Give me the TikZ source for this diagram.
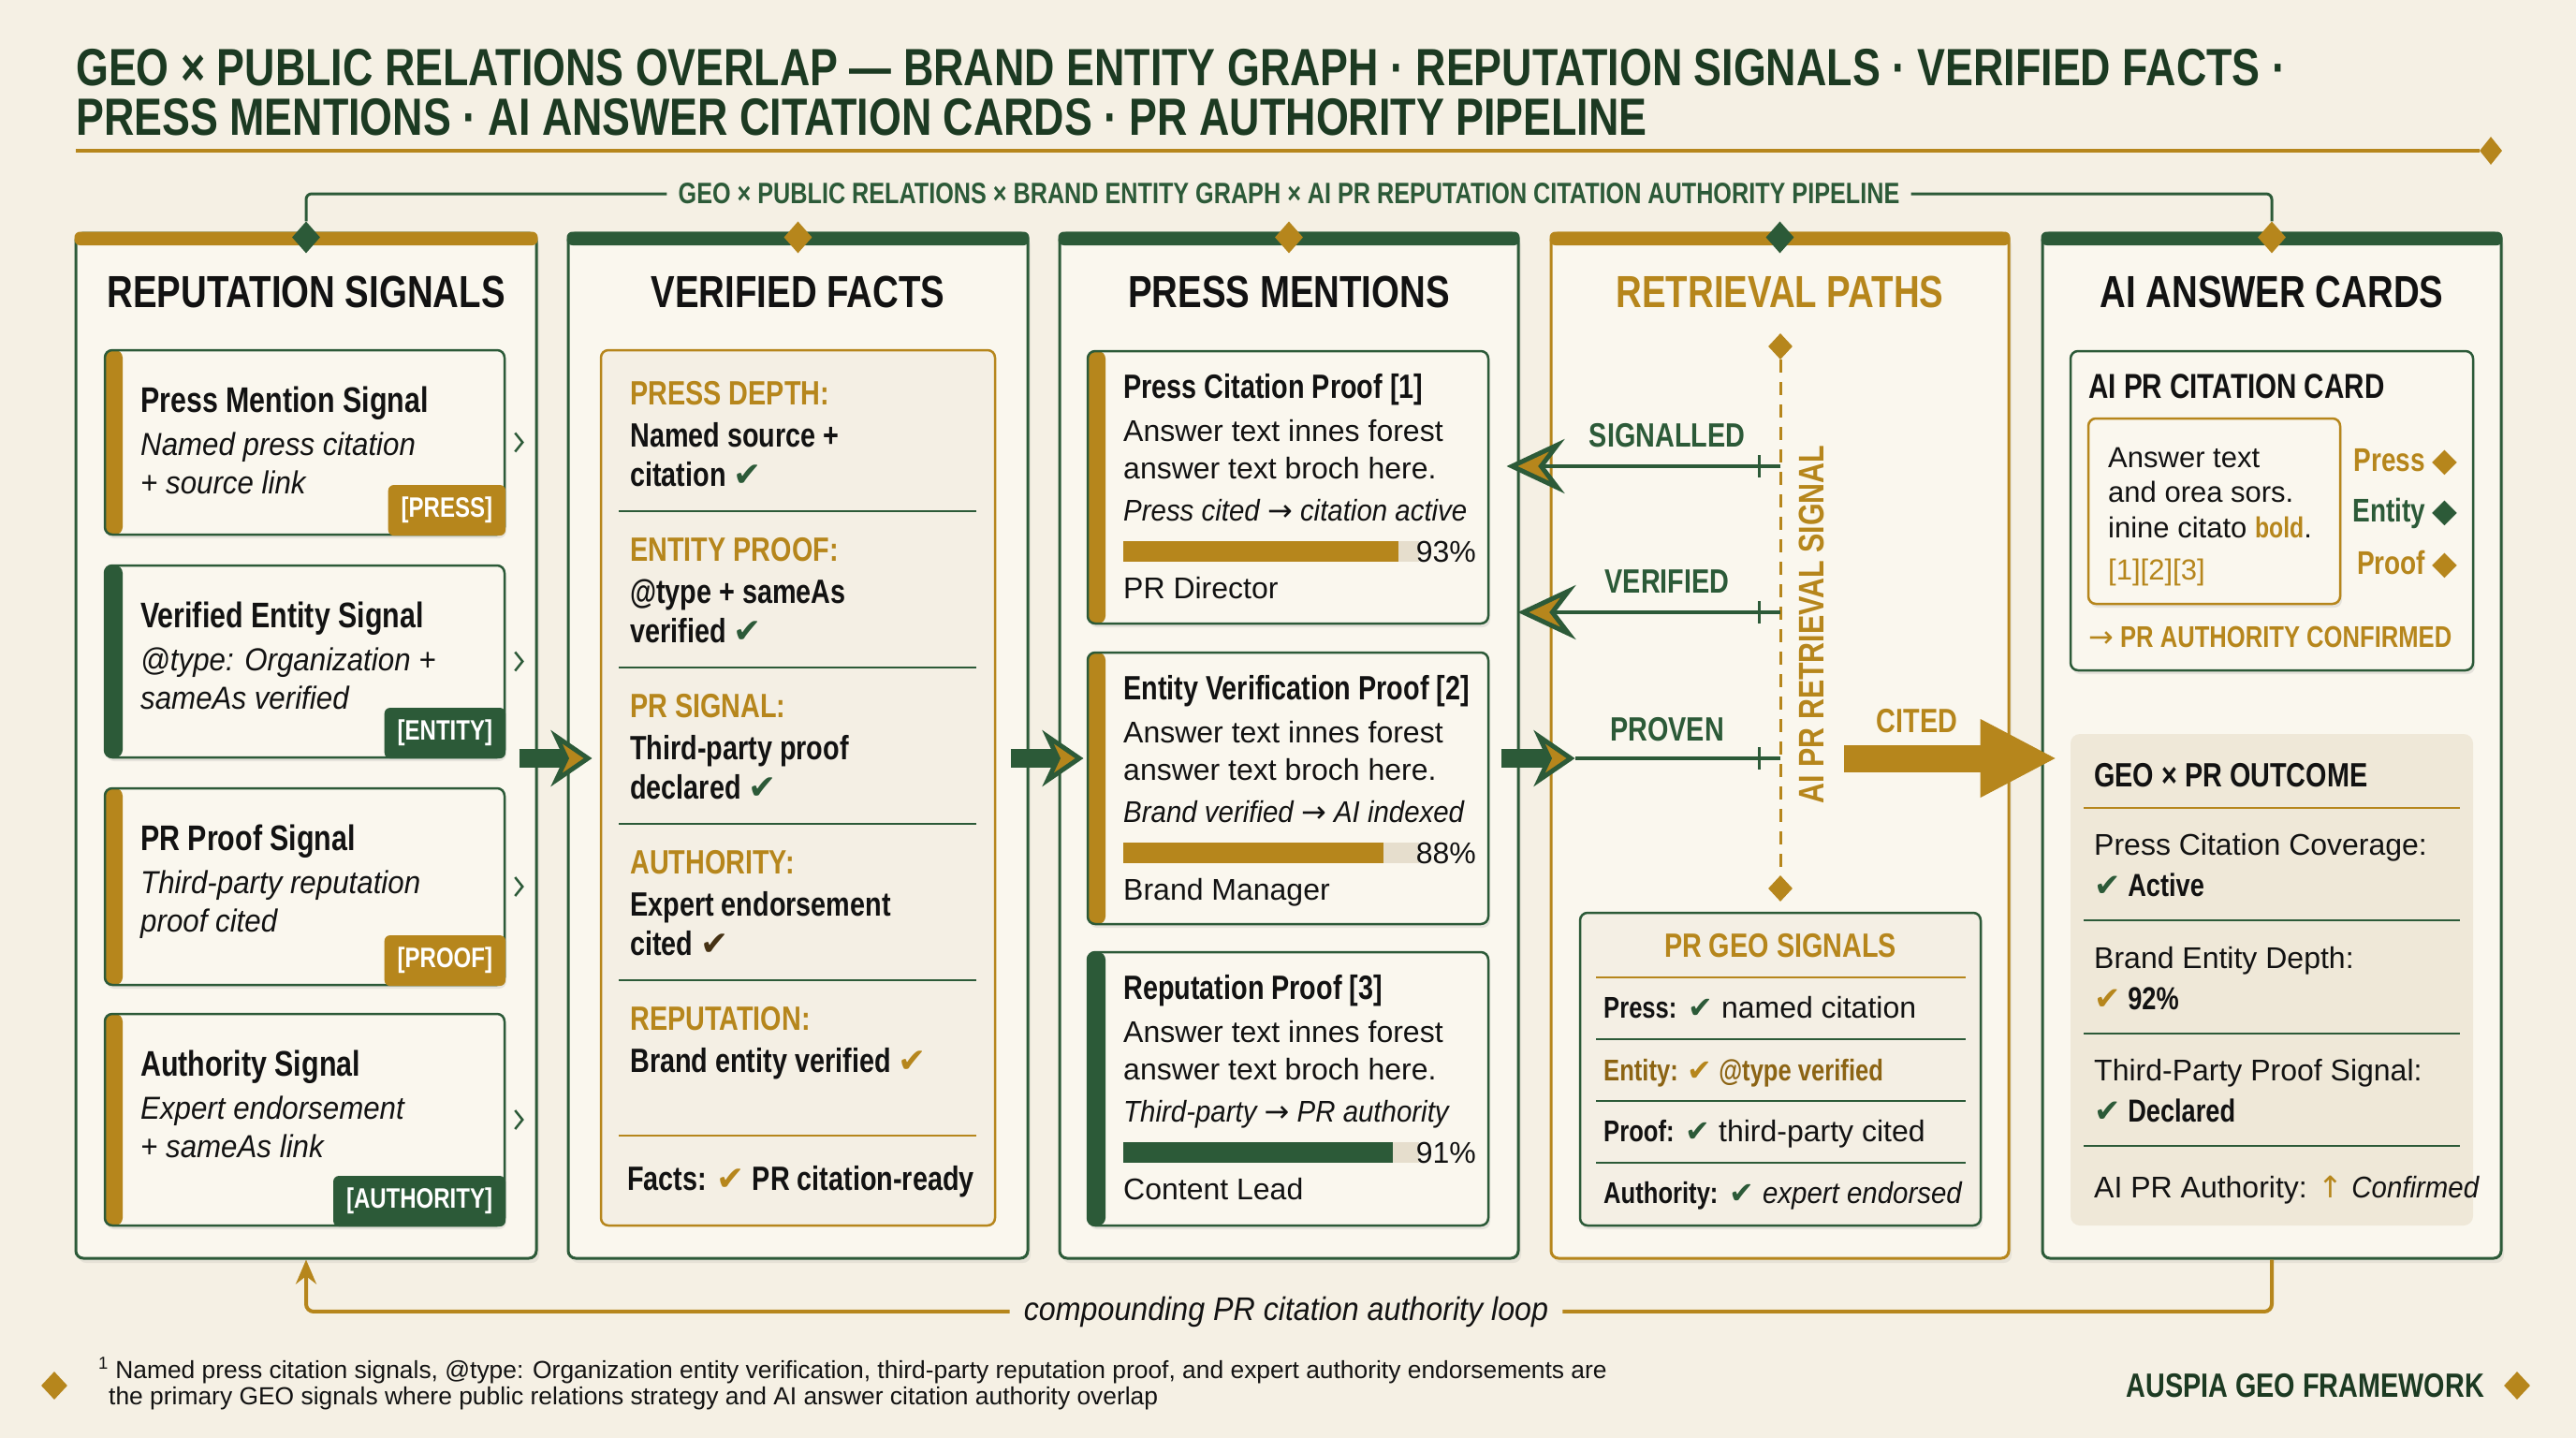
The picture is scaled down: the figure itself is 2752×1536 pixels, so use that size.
\documentclass[tikz,border=0pt]{standalone}
\usepackage{fontspec}
\setmainfont{Liberation Sans}[BoldFeatures={FakeStretch=0.8},ItalicFeatures={FakeStretch=0.92}]
\newfontfamily\symf{DejaVu Sans}
\usetikzlibrary{arrows.meta,positioning,calc,shapes.geometric,fit,shadows}
\definecolor{geoGreen}{RGB}{44,90,56}
\definecolor{geoDeep}{RGB}{28,58,34}
\definecolor{geoGold}{RGB}{182,134,28}
\definecolor{geoBrown}{RGB}{140,100,20}
\definecolor{geoDark}{RGB}{70,50,20}
\definecolor{geoBg}{RGB}{245,240,228}
\definecolor{geoPaper}{RGB}{250,247,238}
\definecolor{geoBeige}{RGB}{239,232,216}
\definecolor{geoTrack}{RGB}{230,222,205}
\definecolor{geoInk}{RGB}{18,18,18}
\newcommand{\ck}[1]{{\symf\mdseries\color{#1}✔}}
\newcommand{\rarr}{{\symf\mdseries →}}
\newcommand{\dmd}{{\symf\mdseries ◆}}

\begin{document}
\begin{tikzpicture}[x=1pt, y=-1pt,
    hdtxt/.style={font=\fontsize{#1}{#1}\selectfont\bfseries, text=geoInk, inner sep=0pt},
    rgtxt/.style={font=\fontsize{#1}{#1}\selectfont, text=geoInk, inner sep=0pt},
    ittxt/.style={font=\fontsize{#1}{#1}\selectfont\itshape, text=geoInk, inner sep=0pt},
    panel/.style={fill=geoPaper, line width=3pt, rounded corners=8pt, inner sep=0pt,
                  drop shadow={shadow xshift=3pt, shadow yshift=-5pt, opacity=0.12}},
    card/.style={fill=geoPaper, draw=geoGreen, line width=2.5pt, rounded corners=8pt, inner sep=0pt,
                 drop shadow={shadow xshift=2pt, shadow yshift=-4pt, opacity=0.16}},
    tagbox/.style={text=white, font=\fontsize{30}{30}\selectfont\bfseries, inner xsep=14pt,
                   inner ysep=0pt, minimum height=54pt, rounded corners=6pt},
    factbox/.style={fill=geoBeige!70, draw=geoGold, line width=2.5pt, rounded corners=8pt, inner sep=0pt},
    gem/.style={diamond, fill=#1, inner sep=0pt, minimum width=30pt, minimum height=34pt},
    flow/.style={draw=geoGreen, line width=20pt,
                 -{Stealth[length=44pt, width=60pt, inset=14pt, fill=geoGold, line width=5pt]}},
    backflow/.style={draw=geoGreen, line width=4pt,
                 -{Stealth[length=62pt, width=58pt, inset=22pt, fill=geoGold, line width=5pt]}},
    citedarrow/.style={draw=geoGold, line width=29pt, -{Triangle[length=80pt, width=84pt, line width=1pt]}},
    loopline/.style={draw=geoGold, line width=4pt, rounded corners=8pt}]

  \useasboundingbox (0,0) rectangle (2752,1536);
  \fill[geoBg] (0,0) rectangle (2752,1536);

  % Header
  \node[font=\fontsize{56}{53}\selectfont\bfseries, text=geoDeep, inner sep=0pt,
        anchor=base west, align=left] (title) at (81,145)
    {GEO × PUBLIC RELATIONS OVERLAP — BRAND ENTITY GRAPH · REPUTATION SIGNALS · VERIFIED FACTS ·\\
     PRESS MENTIONS · AI ANSWER CITATION CARDS · PR AUTHORITY PIPELINE};
  \coordinate (rule) at (81,161);
  \node[gem=geoGold, minimum width=24pt, minimum height=30pt] (ruled) at (2661,161) {};
  \draw[geoGold, line width=4pt] (rule) -- (ruled.west);

  % Panels
  \foreach \i/\xl/\xr/\bc/\tc/\dc/\ttl/\ttc in {
      1/81/573/geoGreen/geoGold/geoGreen/REPUTATION SIGNALS/geoInk,
      2/607/1098/geoGreen/geoGreen/geoGold/VERIFIED FACTS/geoInk,
      3/1132/1622/geoGreen/geoGreen/geoGold/PRESS MENTIONS/geoInk,
      4/1657/2146/geoGold/geoGold/geoGreen/RETRIEVAL PATHS/geoGold,
      5/2182/2672/geoGreen/geoGreen/geoGold/AI ANSWER CARDS/geoInk} {
    \node[panel, draw=\bc, fit={(\xl,249) (\xr,1344)}] (p\i) {};
    \fill[\tc, rounded corners=6pt] (\xl-1.5,247.5) rectangle (\xr+1.5,262);
    \node[gem=\dc] (d\i) at ([yshift=-6pt]p\i.north) {};
    \node[hdtxt=48, text=\ttc, anchor=base] (t\i) at ([yshift=-81pt]p\i.north) {\ttl};
  }

  % Pipeline bracket
  \node[hdtxt=31.5, text=geoGreen, inner xsep=12pt] (sub) at (1377,207)
    {GEO × PUBLIC RELATIONS × BRAND ENTITY GRAPH × AI PR REPUTATION CITATION AUTHORITY PIPELINE};
  \draw[geoGreen, line width=3pt, rounded corners=6pt] (d1.north) |- (sub.west);
  \draw[geoGreen, line width=3pt, rounded corners=6pt] (sub.east) -| (d5.north);

  % Reputation signal cards
  \foreach \n/\yt/\yb/\stc/\ttl/\la/\lb/\tg/\tgc in {
      1/374/571/geoGold/Press Mention Signal/Named press citation/+ source link/PRESS/geoGold,
      2/604/809/geoGreen/Verified Entity Signal/@type: Organization +/sameAs verified/ENTITY/geoGreen,
      3/842/1052/geoGold/PR Proof Signal/Third-party reputation/proof cited/PROOF/geoGold,
      4/1083/1309/geoGold/Authority Signal/Expert endorsement/+ sameAs link/AUTHORITY/geoGreen} {
    \node[card, fit={(112,\yt) (539,\yb)},
          path picture={\fill[\stc] (path picture bounding box.north west)
                        rectangle ([xshift=19pt]path picture bounding box.south west);}] (s\n) {};
    \node[hdtxt=38, anchor=base west] (s\n t) at (150,{\yt+66}) {\ttl};
    \node[ittxt=34, anchor=base west] (s\n a) at (150,{\yt+112}) {\la};
    \node[ittxt=34, anchor=base west] (s\n b) at (150,{\yt+153}) {\lb};
    \node[tagbox, fill=\tgc, anchor=south east] (s\n g) at (s\n.south east) {[\tg]};
    \draw[geoGreen, line width=2.5pt] ([xshift=10pt,yshift=10pt]s\n.east) -- ++(8,10) -- ++(-8,10);
  }

  % Verified facts
  \node[factbox, fit={(642,374) (1063,1309)}] (vf) {};
  \foreach \k/\hd/\la/\lb/\kc in {
      0/PRESS DEPTH:/Named source +/citation/geoGreen,
      1/ENTITY PROOF:/@type + sameAs/verified/geoGreen,
      2/PR SIGNAL:/Third-party proof/declared/geoGreen,
      3/AUTHORITY:/Expert endorsement/cited/geoDark} {
    \node[hdtxt=36, text=geoGold, anchor=base west] (vh\k) at (673,{432+167*\k}) {\hd};
    \node[hdtxt=36, anchor=base west] (va\k) at (673,{477+167*\k}) {\la};
    \node[hdtxt=36, anchor=base west] (vb\k) at (673,{519+167*\k}) {\lb\ \ck{\kc}};
    \draw[geoGreen, line width=2.5pt] (661,{546+167*\k}) -- (1043,{546+167*\k});
  }
  \node[hdtxt=36, text=geoGold, anchor=base west] (vh4) at (673,1100) {REPUTATION:};
  \node[hdtxt=36, anchor=base west] (va4) at (673,1145) {Brand entity verified \ck{geoGold}};
  \draw[geoGold, line width=2.5pt] (661,1213) -- (1043,1213);
  \node[hdtxt=36, anchor=base west] (vfacts) at (670,1271) {Facts: \ck{geoGold} PR citation-ready};

  % Press mention cards
  \foreach \n/\yt/\yb/\stc/\ttl/\nt/\pc/\who in {
      1/375/666/geoGold/Press Citation Proof [1]/Press cited \rarr{} citation active/93/PR Director,
      2/697/987/geoGold/Entity Verification Proof [2]/Brand verified \rarr{} AI indexed/88/Brand Manager,
      3/1017/1309/geoGreen/Reputation Proof [3]/Third-party \rarr{} PR authority/91/Content Lead} {
    \node[card, fit={(1162,\yt) (1590,\yb)},
          path picture={\fill[\stc] (path picture bounding box.north west)
                        rectangle ([xshift=19pt]path picture bounding box.south west);}] (m\n) {};
    \node[hdtxt=36, anchor=base west] (m\n t) at (1200,{\yt+50}) {\ttl};
    \node[rgtxt=32, anchor=base west] (m\n a) at (1200,{\yt+96}) {Answer text innes forest};
    \node[rgtxt=32, anchor=base west] (m\n b) at (1200,{\yt+136}) {answer text broch here.};
    \node[ittxt=32, anchor=base west] (m\n n) at (1200,{\yt+181}) {\nt};
    \fill[geoTrack] (1200,{\yt+203}) rectangle (1516,{\yt+225});
    \fill[\stc] (1200,{\yt+203}) rectangle ({1200+3.16*\pc},{\yt+225});
    \node[rgtxt=32, anchor=base east] (m\n p) at (1577,{\yt+225}) {\pc\%};
    \node[rgtxt=32, anchor=base west] (m\n w) at (1200,{\yt+264}) {\who};
  }

  % Retrieval axis
  \node[gem=geoGold, minimum width=26pt, minimum height=28pt] (ax1) at (1902,370) {};
  \node[gem=geoGold, minimum width=26pt, minimum height=28pt] (ax2) at (1902,949) {};
  \draw[geoGold, line width=3pt, dash pattern=on 14pt off 10pt] (ax1) -- (ax2);
  \node[hdtxt=38, text=geoGold, rotate=90] (vsig) at (1935,667) {AI PR RETRIEVAL SIGNAL};

  % Retrieval paths
  \coordinate (r3) at (1902,810);
  \draw[geoGreen, line width=4pt] (r3) -- ([xshift=27pt,yshift=-13.5pt]p4.west);
  \draw[geoGreen, line width=3pt] ([xshift=-23pt,yshift=12pt]r3) -- ([xshift=-23pt,yshift=-12pt]r3);
  \node[hdtxt=36, text=geoGreen, anchor=base] (rl3) at (1781,791) {PROVEN};
  \foreach \n/\y/\lab/\dx in {1/498/SIGNALLED/-14pt, 2/654/VERIFIED/-2pt} {
    \coordinate (r\n) at (1902,\y);
    \draw[backflow] (r\n) -- ([xshift=\dx]r\n -| p3.east);
    \draw[geoGreen, line width=3pt] ([xshift=-23pt,yshift=12pt]r\n) -- ([xshift=-23pt,yshift=-12pt]r\n);
    \node[hdtxt=36, text=geoGreen, anchor=base] (rl\n) at (1781,{\y-21}) {\lab};
  }

  % Panel to panel flow
  \foreach \a/\b in {1/2,2/3,3/4}
    \draw[flow] ([xshift=-20pt,yshift=-13.5pt]p\a.east) -- ([xshift=27pt,yshift=-13.5pt]p\b.west);

  % Cited
  \coordinate (c0) at (1970,810);
  \draw[citedarrow] (c0) -- ([xshift=15pt]c0 -| p5.west);
  \node[hdtxt=36, text=geoGold, anchor=base] (cl) at (2048,782) {CITED};

  % PR GEO signals
  \node[factbox, draw=geoGreen, drop shadow={shadow xshift=2pt, shadow yshift=-4pt, opacity=0.16},
        fit={(1688,975) (2116,1309)}] (gs) {};
  \node[hdtxt=36, text=geoGold, anchor=base] (gst) at (1902,1022) {PR GEO SIGNALS};
  \draw[geoGold, line width=2.5pt] (1705,1044) -- (2100,1044);
  \foreach \y in {1110,1176,1242}
    \draw[geoGreen, line width=2.5pt] (1705,\y) -- (2100,\y);
  \node[rgtxt=32, anchor=base west] (gs1) at (1713,1087) {\textbf{Press:} \ck{geoGreen} named citation};
  \node[hdtxt=32, text=geoBrown, anchor=base west] (gs2) at (1713,1154) {Entity: \ck{geoGold} @type verified};
  \node[rgtxt=32, anchor=base west] (gs3) at (1713,1219) {\textbf{Proof:} \ck{geoGreen} third-party cited};
  \node[rgtxt=32, anchor=base west] (gs4) at (1713,1285) {\textbf{Authority:} \ck{geoGreen} \textit{expert endorsed}};

  % AI citation card
  \node[card, fit={(2212,375) (2642,716)}] (cc) {};
  \node[hdtxt=37, anchor=base west] (cct) at (2231,425) {AI PR CITATION CARD};
  \node[card, draw=geoGold, fit={(2231,447) (2500,645)}] (ab) {};
  \node[rgtxt=31, anchor=base west] (ab1) at (2252,499) {Answer text};
  \node[rgtxt=31, anchor=base west] (ab2) at (2252,536) {and orea sors.};
  \node[rgtxt=31, anchor=base west] (ab3) at (2252,574) {inine citato \textbf{\color{geoGold}bold}.};
  \node[rgtxt=31, text=geoGold, anchor=base west] (ab4) at (2252,619) {[1][2][3]};
  \foreach \n/\y/\lab/\c in {1/503/Press/geoGold, 2/557/Entity/geoGreen, 3/613/Proof/geoGold}
    \node[hdtxt=35, text=\c, anchor=base east] (src\n) at (2626,\y) {\lab\ \dmd};
  \node[hdtxt=32, text=geoGold, anchor=base west] (conf) at (2231,691) {\rarr\ PR AUTHORITY CONFIRMED};

  % Outcome
  \node[fill=geoBeige, rounded corners=10pt, inner sep=0pt, fit={(2212,784) (2642,1309)}] (oc) {};
  \node[hdtxt=36, anchor=base west] (oct) at (2237,840) {GEO × PR OUTCOME};
  \draw[geoGold, line width=2.5pt] (2226,863) -- (2628,863);
  \foreach \y in {983,1104,1224}
    \draw[geoGreen, line width=2.5pt] (2226,\y) -- (2628,\y);
  \node[rgtxt=32, anchor=base west] (oc1) at (2237,913) {Press Citation Coverage:};
  \node[hdtxt=34, anchor=base west] (oc1v) at (2237,957) {\ck{geoGreen} Active};
  \node[rgtxt=32, anchor=base west] (oc2) at (2237,1034) {Brand Entity Depth:};
  \node[hdtxt=34, anchor=base west] (oc2v) at (2237,1078) {\ck{geoGold} 92\%};
  \node[rgtxt=32, anchor=base west] (oc3) at (2237,1154) {Third-Party Proof Signal:};
  \node[hdtxt=34, anchor=base west] (oc3v) at (2237,1198) {\ck{geoGreen} Declared};
  \node[rgtxt=32, anchor=base west] (oc4) at (2237,1279)
    {AI PR Authority: {\symf\color{geoGold}↑} \textit{Confirmed}};

  % Feedback loop
  \node[ittxt=35, inner xsep=15pt, anchor=base] (loopl) at (1374,1410) {compounding PR citation authority loop};
  \draw[loopline] (p5.south) |- (loopl.east);
  \draw[loopline, -{Stealth[length=26pt, width=22pt]}] (loopl.west) -| (p1.south);

  % Footer
  \node[gem=geoGold, minimum width=28pt, minimum height=30pt] (fd) at (58,1480) {};
  \node[rgtxt=26.4, anchor=base west] (fn1) at (105,1472)
    {\textsuperscript{1} Named press citation signals, @type: Organization entity verification, third-party reputation proof, and expert authority endorsements are};
  \node[rgtxt=26.4, anchor=base west] (fn2) at (116,1500)
    {the primary GEO signals where public relations strategy and AI answer citation authority overlap};
  \node[hdtxt=36, text=geoDeep, anchor=base east] (brand) at (2654,1492) {AUSPIA GEO FRAMEWORK};
  \node[gem=geoGold, minimum width=28pt, minimum height=30pt] (bd) at (2689,1480) {};
\end{tikzpicture}
\end{document}
